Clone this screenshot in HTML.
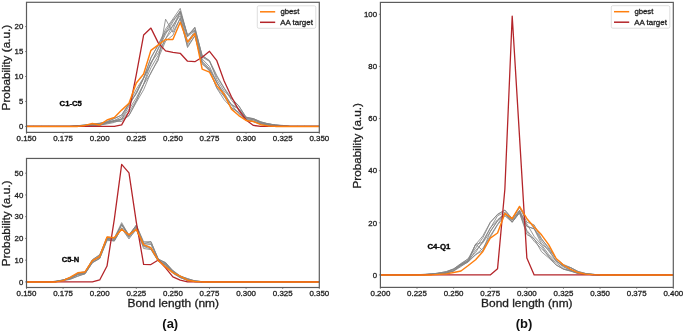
<!DOCTYPE html>
<html><head><meta charset="utf-8"><title>Bond length distributions</title>
<style>
html,body{margin:0;padding:0;background:#fff;}
body{width:685px;height:334px;overflow:hidden;}
svg{display:block;will-change:transform;}
text{font-family:"Liberation Sans", sans-serif;}
</style></head><body>
<svg width="685" height="334" viewBox="0 0 685 334" font-family="Liberation Sans, sans-serif">
<rect width="685" height="334" fill="#fff"/>
<defs><clipPath id="c1"><rect x="26.50" y="2.30" width="292.80" height="130.10"/></clipPath><clipPath id="c2"><rect x="26.50" y="158.45" width="292.80" height="129.05"/></clipPath><clipPath id="c3"><rect x="380.40" y="2.40" width="292.90" height="285.00"/></clipPath></defs>
<g clip-path="url(#c1)">
<polyline points="26.50,126.40 33.82,126.40 41.14,126.40 48.46,126.40 55.78,126.40 63.10,126.40 70.42,126.40 77.74,126.35 85.06,126.15 92.38,125.91 99.70,125.00 107.02,123.93 114.34,122.45 121.66,119.50 128.98,115.53 136.30,102.33 143.62,89.84 150.94,72.34 158.26,60.20 165.58,19.20 172.90,32.31 180.22,18.59 187.54,46.44 194.86,35.69 202.18,64.16 209.50,70.16 216.82,88.25 224.14,99.72 231.46,107.63 238.78,112.42 246.10,120.47 253.42,121.58 260.74,123.46 268.06,125.20 275.38,125.70 282.70,126.40 290.02,126.40 297.34,126.40 304.66,126.40 311.98,126.40 319.30,126.40" fill="none" stroke="#858585" stroke-width="0.85" stroke-linejoin="round" />
<polyline points="26.50,126.40 33.82,126.40 41.14,126.40 48.46,126.40 55.78,126.40 63.10,126.40 70.42,126.40 77.74,125.76 85.06,125.31 92.38,124.06 99.70,123.18 107.02,122.66 114.34,120.34 121.66,116.93 128.98,104.30 136.30,93.70 143.62,78.32 150.94,62.91 158.26,49.21 165.58,34.16 172.90,21.95 180.22,10.86 187.54,36.39 194.86,27.89 202.18,57.00 209.50,61.47 216.82,76.95 224.14,88.34 231.46,100.12 238.78,109.20 246.10,117.38 253.42,118.68 260.74,121.67 268.06,123.93 275.38,125.09 282.70,125.84 290.02,126.40 297.34,126.40 304.66,126.40 311.98,126.40 319.30,126.40" fill="none" stroke="#858585" stroke-width="0.85" stroke-linejoin="round" />
<polyline points="26.50,126.40 33.82,126.40 41.14,126.40 48.46,126.40 55.78,126.40 63.10,126.40 70.42,126.40 77.74,125.66 85.06,124.92 92.38,124.14 99.70,123.48 107.02,121.46 114.34,118.50 121.66,115.18 128.98,103.68 136.30,89.11 143.62,77.61 150.94,58.03 158.26,44.89 165.58,29.08 172.90,18.95 180.22,8.33 187.54,36.14 194.86,27.11 202.18,56.02 209.50,60.70 216.82,75.52 224.14,87.87 231.46,98.24 238.78,106.00 246.10,117.75 253.42,118.50 260.74,122.04 268.06,123.73 275.38,124.96 282.70,125.41 290.02,126.40 297.34,126.40 304.66,126.40 311.98,126.40 319.30,126.40" fill="none" stroke="#858585" stroke-width="0.85" stroke-linejoin="round" />
<polyline points="26.50,126.40 33.82,126.40 41.14,126.40 48.46,126.40 55.78,126.40 63.10,126.40 70.42,126.40 77.74,126.32 85.06,126.08 92.38,124.98 99.70,124.94 107.02,122.66 114.34,120.54 121.66,119.68 128.98,112.38 136.30,100.19 143.62,84.54 150.94,67.78 158.26,55.37 165.58,38.78 172.90,24.99 180.22,15.71 187.54,44.38 194.86,32.78 202.18,62.78 209.50,69.54 216.82,81.86 224.14,96.21 231.46,104.72 238.78,113.68 246.10,119.63 253.42,120.83 260.74,123.82 268.06,124.73 275.38,125.56 282.70,126.34 290.02,126.40 297.34,126.40 304.66,126.40 311.98,126.40 319.30,126.40" fill="none" stroke="#858585" stroke-width="0.85" stroke-linejoin="round" />
<polyline points="26.50,126.40 33.82,126.40 41.14,126.40 48.46,126.40 55.78,126.40 63.10,126.40 70.42,126.40 77.74,126.25 85.06,126.00 92.38,125.45 99.70,125.24 107.02,123.32 114.34,121.41 121.66,121.46 128.98,115.53 136.30,101.28 143.62,84.29 150.94,73.22 158.26,58.35 165.58,41.10 172.90,35.29 180.22,17.93 187.54,47.57 194.86,35.77 202.18,62.46 209.50,71.10 216.82,87.77 224.14,96.42 231.46,107.63 238.78,112.47 246.10,119.57 253.42,121.79 260.74,123.92 268.06,124.83 275.38,125.89 282.70,126.40 290.02,126.40 297.34,126.40 304.66,126.40 311.98,126.40 319.30,126.40" fill="none" stroke="#858585" stroke-width="0.85" stroke-linejoin="round" />
<polyline points="26.50,126.40 33.82,126.40 41.14,126.40 48.46,126.40 55.78,126.40 63.10,126.40 70.42,126.40 77.74,125.79 85.06,124.97 92.38,124.61 99.70,123.51 107.02,122.02 114.34,118.50 121.66,114.93 128.98,103.68 136.30,93.54 143.62,78.35 150.94,57.42 158.26,44.89 165.58,31.56 172.90,20.14 180.22,11.78 187.54,34.56 194.86,29.90 202.18,55.26 209.50,60.70 216.82,79.53 224.14,90.87 231.46,98.24 238.78,105.80 246.10,117.01 253.42,119.26 260.74,122.27 268.06,123.92 275.38,124.92 282.70,125.67 290.02,126.40 297.34,126.40 304.66,126.40 311.98,126.40 319.30,126.40" fill="none" stroke="#858585" stroke-width="0.85" stroke-linejoin="round" />
<polyline points="26.50,126.40 33.82,126.40 41.14,126.40 48.46,126.40 55.78,126.40 63.10,126.40 70.42,126.40 77.74,126.03 85.06,125.50 92.38,124.86 99.70,124.11 107.02,122.00 114.34,120.87 121.66,118.90 128.98,106.13 136.30,92.37 143.62,77.77 150.94,64.23 158.26,48.01 165.58,32.27 172.90,26.66 180.22,11.51 187.54,36.65 194.86,30.36 202.18,58.99 209.50,66.50 216.82,82.29 224.14,94.56 231.46,104.29 238.78,108.57 246.10,118.86 253.42,119.44 260.74,123.08 268.06,123.88 275.38,125.25 282.70,125.63 290.02,126.40 297.34,126.40 304.66,126.40 311.98,126.40 319.30,126.40" fill="none" stroke="#858585" stroke-width="0.85" stroke-linejoin="round" />
<polyline points="26.50,126.40 33.82,126.40 41.14,126.40 48.46,126.40 55.78,126.40 63.10,126.40 70.42,126.40 77.74,125.94 85.06,125.38 92.38,124.98 99.70,124.95 107.02,122.57 114.34,121.40 121.66,118.86 128.98,109.49 136.30,97.75 143.62,84.13 150.94,62.34 158.26,52.78 165.58,38.73 172.90,29.57 180.22,12.39 187.54,41.75 194.86,31.14 202.18,61.00 209.50,68.55 216.82,82.91 224.14,92.76 231.46,105.15 238.78,108.94 246.10,118.26 253.42,119.94 260.74,122.47 268.06,125.05 275.38,125.42 282.70,125.80 290.02,126.40 297.34,126.40 304.66,126.40 311.98,126.40 319.30,126.40" fill="none" stroke="#858585" stroke-width="0.85" stroke-linejoin="round" />
<polyline points="26.50,126.40 33.82,126.40 41.14,126.40 48.46,126.40 55.78,126.40 63.10,126.40 70.42,126.40 77.74,126.40 85.06,126.40 92.38,126.40 99.70,126.40 107.02,126.40 114.34,126.40 121.66,124.92 128.98,111.58 136.30,74.53 143.62,35.01 150.94,28.09 158.26,42.91 165.58,50.82 172.90,52.30 180.22,53.29 187.54,61.19 194.86,61.69 202.18,57.24 209.50,51.31 216.82,60.70 224.14,80.95 231.46,96.76 238.78,110.10 246.10,119.98 253.42,125.41 260.74,126.40 268.06,126.40 275.38,126.40 282.70,126.40 290.02,126.40 297.34,126.40 304.66,126.40 311.98,126.40 319.30,126.40" fill="none" stroke="#b4252a" stroke-width="1.3" stroke-linejoin="round" />
<polyline points="26.50,126.40 33.82,126.40 41.14,126.40 48.46,126.40 55.78,126.40 63.10,126.40 70.42,126.40 77.74,126.40 85.06,125.41 92.38,123.44 99.70,124.92 107.02,119.98 114.34,117.51 121.66,110.10 128.98,103.18 136.30,82.93 143.62,74.04 150.94,50.32 158.26,44.89 165.58,39.46 172.90,39.46 180.22,22.17 187.54,41.93 194.86,33.53 202.18,69.10 209.50,72.06 216.82,85.89 224.14,94.29 231.46,109.11 238.78,115.53 246.10,120.47 253.42,121.46 260.74,124.67 268.06,125.91 275.38,126.40 282.70,126.40 290.02,126.40 297.34,126.40 304.66,126.40 311.98,126.40 319.30,126.40" fill="none" stroke="#ff7f0e" stroke-width="1.45" stroke-linejoin="round" />
</g>
<g clip-path="url(#c2)">
<polyline points="26.50,281.90 33.82,281.90 41.14,281.90 48.46,281.90 55.78,281.29 63.10,279.95 70.42,277.72 77.74,273.71 85.06,272.14 92.38,259.66 99.70,254.61 107.02,238.61 114.34,238.81 121.66,224.20 128.98,234.85 136.30,225.15 143.62,243.90 150.94,241.58 158.26,259.61 165.58,262.44 172.90,271.34 180.22,276.33 187.54,278.65 194.86,281.07 202.18,281.67 209.50,281.90 216.82,281.90 224.14,281.90 231.46,281.90 238.78,281.90 246.10,281.90 253.42,281.90 260.74,281.90 268.06,281.90 275.38,281.90 282.70,281.90 290.02,281.90 297.34,281.90 304.66,281.90 311.98,281.90 319.30,281.90" fill="none" stroke="#858585" stroke-width="0.85" stroke-linejoin="round" />
<polyline points="26.50,281.90 33.82,281.90 41.14,281.90 48.46,281.90 55.78,281.46 63.10,280.24 70.42,278.53 77.74,274.26 85.06,272.81 92.38,261.23 99.70,257.27 107.02,238.47 114.34,239.44 121.66,224.85 128.98,236.40 136.30,228.30 143.62,246.10 150.94,247.50 158.26,260.81 165.58,264.74 172.90,272.30 180.22,276.64 187.54,280.43 194.86,281.23 202.18,281.79 209.50,281.90 216.82,281.90 224.14,281.90 231.46,281.90 238.78,281.90 246.10,281.90 253.42,281.90 260.74,281.90 268.06,281.90 275.38,281.90 282.70,281.90 290.02,281.90 297.34,281.90 304.66,281.90 311.98,281.90 319.30,281.90" fill="none" stroke="#858585" stroke-width="0.85" stroke-linejoin="round" />
<polyline points="26.50,281.90 33.82,281.90 41.14,281.90 48.46,281.90 55.78,281.87 63.10,280.48 70.42,278.98 77.74,276.11 85.06,273.56 92.38,262.41 99.70,258.49 107.02,239.57 114.34,241.14 121.66,227.84 128.98,237.67 136.30,229.87 143.62,246.59 150.94,248.99 158.26,261.01 165.58,265.42 172.90,273.23 180.22,277.78 187.54,280.01 194.86,281.68 202.18,281.81 209.50,281.90 216.82,281.90 224.14,281.90 231.46,281.90 238.78,281.90 246.10,281.90 253.42,281.90 260.74,281.90 268.06,281.90 275.38,281.90 282.70,281.90 290.02,281.90 297.34,281.90 304.66,281.90 311.98,281.90 319.30,281.90" fill="none" stroke="#858585" stroke-width="0.85" stroke-linejoin="round" />
<polyline points="26.50,281.90 33.82,281.90 41.14,281.90 48.46,281.90 55.78,281.76 63.10,280.54 70.42,279.30 77.74,276.26 85.06,273.85 92.38,262.87 99.70,258.49 107.02,240.63 114.34,240.66 121.66,228.50 128.98,238.97 136.30,228.80 143.62,248.51 150.94,249.60 158.26,261.36 165.58,264.74 172.90,273.23 180.22,277.27 187.54,280.77 194.86,281.68 202.18,281.90 209.50,281.90 216.82,281.90 224.14,281.90 231.46,281.90 238.78,281.90 246.10,281.90 253.42,281.90 260.74,281.90 268.06,281.90 275.38,281.90 282.70,281.90 290.02,281.90 297.34,281.90 304.66,281.90 311.98,281.90 319.30,281.90" fill="none" stroke="#858585" stroke-width="0.85" stroke-linejoin="round" />
<polyline points="26.50,281.90 33.82,281.90 41.14,281.90 48.46,281.90 55.78,281.35 63.10,280.11 70.42,277.33 77.74,273.23 85.06,271.49 92.38,259.87 99.70,255.13 107.02,237.02 114.34,237.89 121.66,222.64 128.98,235.40 136.30,225.10 143.62,241.79 150.94,241.75 158.26,258.81 165.58,262.89 172.90,270.41 180.22,275.95 187.54,278.65 194.86,280.82 202.18,281.63 209.50,281.90 216.82,281.90 224.14,281.90 231.46,281.90 238.78,281.90 246.10,281.90 253.42,281.90 260.74,281.90 268.06,281.90 275.38,281.90 282.70,281.90 290.02,281.90 297.34,281.90 304.66,281.90 311.98,281.90 319.30,281.90" fill="none" stroke="#858585" stroke-width="0.85" stroke-linejoin="round" />
<polyline points="26.50,281.90 33.82,281.90 41.14,281.90 48.46,281.90 55.78,281.64 63.10,280.32 70.42,278.46 77.74,274.96 85.06,273.67 92.38,262.38 99.70,258.01 107.02,239.25 114.34,240.55 121.66,227.88 128.98,236.77 136.30,227.67 143.62,244.99 150.94,247.49 158.26,260.73 165.58,264.12 172.90,272.45 180.22,277.35 187.54,280.30 194.86,281.59 202.18,281.83 209.50,281.90 216.82,281.90 224.14,281.90 231.46,281.90 238.78,281.90 246.10,281.90 253.42,281.90 260.74,281.90 268.06,281.90 275.38,281.90 282.70,281.90 290.02,281.90 297.34,281.90 304.66,281.90 311.98,281.90 319.30,281.90" fill="none" stroke="#858585" stroke-width="0.85" stroke-linejoin="round" />
<polyline points="26.50,281.90 33.82,281.90 41.14,281.90 48.46,281.90 55.78,281.28 63.10,279.99 70.42,277.44 77.74,274.10 85.06,272.37 92.38,261.27 99.70,255.88 107.02,237.62 114.34,238.22 121.66,224.97 128.98,235.44 136.30,225.81 143.62,243.06 150.94,243.21 158.26,259.14 165.58,263.32 172.90,270.93 180.22,276.34 187.54,279.28 194.86,280.95 202.18,281.64 209.50,281.90 216.82,281.90 224.14,281.90 231.46,281.90 238.78,281.90 246.10,281.90 253.42,281.90 260.74,281.90 268.06,281.90 275.38,281.90 282.70,281.90 290.02,281.90 297.34,281.90 304.66,281.90 311.98,281.90 319.30,281.90" fill="none" stroke="#858585" stroke-width="0.85" stroke-linejoin="round" />
<polyline points="26.50,281.90 33.82,281.90 41.14,281.90 48.46,281.90 55.78,281.60 63.10,280.10 70.42,277.76 77.74,274.41 85.06,273.10 92.38,260.89 99.70,256.55 107.02,238.43 114.34,239.34 121.66,224.33 128.98,236.32 136.30,226.43 143.62,245.18 150.94,244.44 158.26,259.58 165.58,263.03 172.90,271.83 180.22,276.01 187.54,279.18 194.86,281.11 202.18,281.64 209.50,281.90 216.82,281.90 224.14,281.90 231.46,281.90 238.78,281.90 246.10,281.90 253.42,281.90 260.74,281.90 268.06,281.90 275.38,281.90 282.70,281.90 290.02,281.90 297.34,281.90 304.66,281.90 311.98,281.90 319.30,281.90" fill="none" stroke="#858585" stroke-width="0.85" stroke-linejoin="round" />
<polyline points="26.50,281.90 33.82,281.90 41.14,281.90 48.46,281.90 55.78,281.90 63.10,281.90 70.42,281.90 77.74,281.90 85.06,281.90 92.38,281.90 99.70,279.95 107.02,266.07 114.34,219.03 121.66,164.39 128.98,172.85 136.30,222.06 143.62,264.34 150.94,264.56 158.26,260.00 165.58,267.81 172.90,276.91 180.22,280.17 187.54,281.90 194.86,281.90 202.18,281.90 209.50,281.90 216.82,281.90 224.14,281.90 231.46,281.90 238.78,281.90 246.10,281.90 253.42,281.90 260.74,281.90 268.06,281.90 275.38,281.90 282.70,281.90 290.02,281.90 297.34,281.90 304.66,281.90 311.98,281.90 319.30,281.90" fill="none" stroke="#b4252a" stroke-width="1.3" stroke-linejoin="round" />
<polyline points="26.50,281.90 33.82,281.90 41.14,281.90 48.46,281.90 55.78,281.90 63.10,280.60 70.42,277.13 77.74,272.79 85.06,271.93 92.38,260.65 99.70,256.53 107.02,237.02 114.34,237.67 121.66,229.22 128.98,234.85 136.30,229.22 143.62,244.61 150.94,247.86 158.26,260.44 165.58,266.94 172.90,272.58 180.22,276.05 187.54,280.17 194.86,281.47 202.18,281.90 209.50,281.90 216.82,281.90 224.14,281.90 231.46,281.90 238.78,281.90 246.10,281.90 253.42,281.90 260.74,281.90 268.06,281.90 275.38,281.90 282.70,281.90 290.02,281.90 297.34,281.90 304.66,281.90 311.98,281.90 319.30,281.90" fill="none" stroke="#ff7f0e" stroke-width="1.45" stroke-linejoin="round" />
</g>
<g clip-path="url(#c3)">
<polyline points="380.40,274.90 387.72,274.90 395.04,274.90 402.37,274.90 409.69,274.90 417.01,274.90 424.33,274.82 431.66,274.48 438.98,273.74 446.30,273.34 453.62,271.15 460.95,266.57 468.27,261.50 475.59,244.17 482.91,250.68 490.24,231.44 497.56,220.90 504.88,214.53 512.20,221.88 519.53,212.92 526.85,234.54 534.17,238.73 541.49,251.72 548.82,257.97 556.14,264.91 563.46,269.17 570.78,271.26 578.11,273.36 585.43,274.05 592.75,274.80 600.07,274.90 607.40,274.90 614.72,274.90 622.04,274.90 629.36,274.90 636.69,274.90 644.01,274.90 651.33,274.90 658.65,274.90 665.98,274.90 673.30,274.90" fill="none" stroke="#858585" stroke-width="0.85" stroke-linejoin="round" />
<polyline points="380.40,274.90 387.72,274.90 395.04,274.90 402.37,274.90 409.69,274.90 417.01,274.88 424.33,274.90 431.66,274.58 438.98,274.12 446.30,273.34 453.62,270.67 460.95,265.79 468.27,262.00 475.59,254.65 482.91,250.68 490.24,237.14 497.56,224.90 504.88,215.79 512.20,222.20 519.53,212.92 526.85,231.74 534.17,241.31 541.49,248.68 548.82,256.17 556.14,265.00 563.46,269.17 570.78,270.92 578.11,273.60 585.43,274.13 592.75,274.90 600.07,274.90 607.40,274.90 614.72,274.90 622.04,274.90 629.36,274.90 636.69,274.90 644.01,274.90 651.33,274.90 658.65,274.90 665.98,274.90 673.30,274.90" fill="none" stroke="#858585" stroke-width="0.85" stroke-linejoin="round" />
<polyline points="380.40,274.90 387.72,274.90 395.04,274.90 402.37,274.90 409.69,274.90 417.01,274.88 424.33,274.72 431.66,274.31 438.98,273.90 446.30,273.19 453.62,270.78 460.95,264.95 468.27,261.04 475.59,254.76 482.91,248.32 490.24,235.86 497.56,224.20 504.88,213.30 512.20,222.24 519.53,211.12 526.85,230.35 534.17,239.16 541.49,246.39 548.82,256.92 556.14,262.68 563.46,268.73 570.78,270.75 578.11,273.30 585.43,274.20 592.75,274.56 600.07,274.90 607.40,274.90 614.72,274.90 622.04,274.90 629.36,274.90 636.69,274.90 644.01,274.90 651.33,274.90 658.65,274.90 665.98,274.90 673.30,274.90" fill="none" stroke="#858585" stroke-width="0.85" stroke-linejoin="round" />
<polyline points="380.40,274.90 387.72,274.90 395.04,274.90 402.37,274.90 409.69,274.90 417.01,274.67 424.33,274.58 431.66,273.93 438.98,273.38 446.30,272.13 453.62,269.17 460.95,264.11 468.27,260.65 475.59,244.40 482.91,242.21 490.24,228.33 497.56,215.82 504.88,212.19 512.20,219.95 519.53,210.05 526.85,226.31 534.17,228.91 541.49,243.94 548.82,250.01 556.14,260.77 563.46,265.93 570.78,267.84 578.11,272.13 585.43,273.60 592.75,274.32 600.07,274.90 607.40,274.90 614.72,274.90 622.04,274.90 629.36,274.90 636.69,274.90 644.01,274.90 651.33,274.90 658.65,274.90 665.98,274.90 673.30,274.90" fill="none" stroke="#858585" stroke-width="0.85" stroke-linejoin="round" />
<polyline points="380.40,274.90 387.72,274.90 395.04,274.90 402.37,274.90 409.69,274.90 417.01,274.83 424.33,274.77 431.66,274.15 438.98,273.35 446.30,272.78 453.62,270.61 460.95,264.85 468.27,260.13 475.59,252.57 482.91,240.98 490.24,227.94 497.56,219.77 504.88,213.56 512.20,221.74 519.53,211.79 526.85,223.88 534.17,236.42 541.49,244.67 548.82,254.78 556.14,261.16 563.46,266.94 570.78,270.42 578.11,273.04 585.43,273.82 592.75,274.76 600.07,274.90 607.40,274.90 614.72,274.90 622.04,274.90 629.36,274.90 636.69,274.90 644.01,274.90 651.33,274.90 658.65,274.90 665.98,274.90 673.30,274.90" fill="none" stroke="#858585" stroke-width="0.85" stroke-linejoin="round" />
<polyline points="380.40,274.90 387.72,274.90 395.04,274.90 402.37,274.90 409.69,274.90 417.01,274.79 424.33,274.59 431.66,274.06 438.98,273.30 446.30,272.50 453.62,269.43 460.95,265.24 468.27,261.37 475.59,250.43 482.91,242.60 490.24,231.92 497.56,220.53 504.88,212.89 512.20,219.97 519.53,210.71 526.85,226.43 534.17,228.73 541.49,240.95 548.82,251.20 556.14,260.66 563.46,266.29 570.78,270.14 578.11,272.89 585.43,274.04 592.75,274.39 600.07,274.90 607.40,274.90 614.72,274.90 622.04,274.90 629.36,274.90 636.69,274.90 644.01,274.90 651.33,274.90 658.65,274.90 665.98,274.90 673.30,274.90" fill="none" stroke="#858585" stroke-width="0.85" stroke-linejoin="round" />
<polyline points="380.40,274.90 387.72,274.90 395.04,274.90 402.37,274.90 409.69,274.90 417.01,274.65 424.33,274.38 431.66,274.16 438.98,272.91 446.30,271.79 453.62,268.98 460.95,264.17 468.27,258.76 475.59,248.17 482.91,237.62 490.24,222.66 497.56,214.23 504.88,210.20 512.20,218.33 519.53,207.20 526.85,218.39 534.17,228.46 541.49,239.11 548.82,247.56 556.14,258.49 563.46,265.35 570.78,267.61 578.11,271.51 585.43,273.45 592.75,274.30 600.07,274.90 607.40,274.90 614.72,274.90 622.04,274.90 629.36,274.90 636.69,274.90 644.01,274.90 651.33,274.90 658.65,274.90 665.98,274.90 673.30,274.90" fill="none" stroke="#858585" stroke-width="0.85" stroke-linejoin="round" />
<polyline points="380.40,274.90 387.72,274.90 395.04,274.90 402.37,274.90 409.69,274.90 417.01,274.65 424.33,274.38 431.66,273.86 438.98,273.09 446.30,271.51 453.62,268.91 460.95,263.44 468.27,258.76 475.59,244.58 482.91,235.84 490.24,222.30 497.56,214.54 504.88,210.06 512.20,219.11 519.53,207.20 526.85,222.19 534.17,224.90 541.49,238.57 548.82,248.96 556.14,258.49 563.46,264.49 570.78,267.61 578.11,271.51 585.43,273.46 592.75,274.41 600.07,274.90 607.40,274.90 614.72,274.90 622.04,274.90 629.36,274.90 636.69,274.90 644.01,274.90 651.33,274.90 658.65,274.90 665.98,274.90 673.30,274.90" fill="none" stroke="#858585" stroke-width="0.85" stroke-linejoin="round" />
<polyline points="380.40,274.90 387.72,274.90 395.04,274.90 402.37,274.90 409.69,274.90 417.01,274.90 424.33,274.90 431.66,274.90 438.98,274.90 446.30,274.90 453.62,274.90 460.95,274.90 468.27,274.90 475.59,274.90 482.91,274.90 490.24,274.90 497.56,268.65 504.88,188.97 512.20,16.06 519.53,136.89 526.85,257.97 534.17,274.90 541.49,274.90 548.82,274.90 556.14,274.90 563.46,274.90 570.78,274.90 578.11,274.90 585.43,274.90 592.75,274.90 600.07,274.90 607.40,274.90 614.72,274.90 622.04,274.90 629.36,274.90 636.69,274.90 644.01,274.90 651.33,274.90 658.65,274.90 665.98,274.90 673.30,274.90" fill="none" stroke="#b4252a" stroke-width="1.3" stroke-linejoin="round" />
<polyline points="380.40,274.90 387.72,274.90 395.04,274.90 402.37,274.90 409.69,274.90 417.01,274.90 424.33,274.90 431.66,274.90 438.98,274.38 446.30,273.86 453.62,272.56 460.95,270.99 468.27,265.53 475.59,259.80 482.91,251.46 490.24,238.18 497.56,232.98 504.88,213.45 512.20,218.65 519.53,206.41 526.85,218.65 534.17,226.99 541.49,234.80 548.82,244.95 556.14,258.49 563.46,265.00 570.78,269.43 578.11,272.56 585.43,274.12 592.75,274.64 600.07,274.90 607.40,274.90 614.72,274.90 622.04,274.90 629.36,274.90 636.69,274.90 644.01,274.90 651.33,274.90 658.65,274.90 665.98,274.90 673.30,274.90" fill="none" stroke="#ff7f0e" stroke-width="1.45" stroke-linejoin="round" />
</g>
<rect x="26.50" y="2.30" width="292.80" height="130.10" fill="none" stroke="#5c5c5c" stroke-width="1.2"/>
<rect x="26.50" y="158.45" width="292.80" height="129.05" fill="none" stroke="#5c5c5c" stroke-width="1.2"/>
<rect x="380.40" y="2.40" width="292.90" height="285.00" fill="none" stroke="#5c5c5c" stroke-width="1.2"/>
<line x1="26.50" y1="132.40" x2="26.50" y2="133.90" stroke="#5c5c5c" stroke-width="0.7"/>
<text x="26.50" y="140.60" font-size="7" text-anchor="middle" fill="#1e1e1e" stroke="#1e1e1e" stroke-width="0.28" textLength="19.8" lengthAdjust="spacingAndGlyphs">0.150</text>
<line x1="63.10" y1="132.40" x2="63.10" y2="133.90" stroke="#5c5c5c" stroke-width="0.7"/>
<text x="63.10" y="140.60" font-size="7" text-anchor="middle" fill="#1e1e1e" stroke="#1e1e1e" stroke-width="0.28" textLength="19.8" lengthAdjust="spacingAndGlyphs">0.175</text>
<line x1="99.70" y1="132.40" x2="99.70" y2="133.90" stroke="#5c5c5c" stroke-width="0.7"/>
<text x="99.70" y="140.60" font-size="7" text-anchor="middle" fill="#1e1e1e" stroke="#1e1e1e" stroke-width="0.28" textLength="19.8" lengthAdjust="spacingAndGlyphs">0.200</text>
<line x1="136.30" y1="132.40" x2="136.30" y2="133.90" stroke="#5c5c5c" stroke-width="0.7"/>
<text x="136.30" y="140.60" font-size="7" text-anchor="middle" fill="#1e1e1e" stroke="#1e1e1e" stroke-width="0.28" textLength="19.8" lengthAdjust="spacingAndGlyphs">0.225</text>
<line x1="172.90" y1="132.40" x2="172.90" y2="133.90" stroke="#5c5c5c" stroke-width="0.7"/>
<text x="172.90" y="140.60" font-size="7" text-anchor="middle" fill="#1e1e1e" stroke="#1e1e1e" stroke-width="0.28" textLength="19.8" lengthAdjust="spacingAndGlyphs">0.250</text>
<line x1="209.50" y1="132.40" x2="209.50" y2="133.90" stroke="#5c5c5c" stroke-width="0.7"/>
<text x="209.50" y="140.60" font-size="7" text-anchor="middle" fill="#1e1e1e" stroke="#1e1e1e" stroke-width="0.28" textLength="19.8" lengthAdjust="spacingAndGlyphs">0.275</text>
<line x1="246.10" y1="132.40" x2="246.10" y2="133.90" stroke="#5c5c5c" stroke-width="0.7"/>
<text x="246.10" y="140.60" font-size="7" text-anchor="middle" fill="#1e1e1e" stroke="#1e1e1e" stroke-width="0.28" textLength="19.8" lengthAdjust="spacingAndGlyphs">0.300</text>
<line x1="282.70" y1="132.40" x2="282.70" y2="133.90" stroke="#5c5c5c" stroke-width="0.7"/>
<text x="282.70" y="140.60" font-size="7" text-anchor="middle" fill="#1e1e1e" stroke="#1e1e1e" stroke-width="0.28" textLength="19.8" lengthAdjust="spacingAndGlyphs">0.325</text>
<line x1="319.30" y1="132.40" x2="319.30" y2="133.90" stroke="#5c5c5c" stroke-width="0.7"/>
<text x="319.30" y="140.60" font-size="7" text-anchor="middle" fill="#1e1e1e" stroke="#1e1e1e" stroke-width="0.28" textLength="19.8" lengthAdjust="spacingAndGlyphs">0.350</text>
<line x1="26.50" y1="287.50" x2="26.50" y2="289.00" stroke="#5c5c5c" stroke-width="0.7"/>
<text x="26.50" y="295.60" font-size="7" text-anchor="middle" fill="#1e1e1e" stroke="#1e1e1e" stroke-width="0.28" textLength="19.8" lengthAdjust="spacingAndGlyphs">0.150</text>
<line x1="63.10" y1="287.50" x2="63.10" y2="289.00" stroke="#5c5c5c" stroke-width="0.7"/>
<text x="63.10" y="295.60" font-size="7" text-anchor="middle" fill="#1e1e1e" stroke="#1e1e1e" stroke-width="0.28" textLength="19.8" lengthAdjust="spacingAndGlyphs">0.175</text>
<line x1="99.70" y1="287.50" x2="99.70" y2="289.00" stroke="#5c5c5c" stroke-width="0.7"/>
<text x="99.70" y="295.60" font-size="7" text-anchor="middle" fill="#1e1e1e" stroke="#1e1e1e" stroke-width="0.28" textLength="19.8" lengthAdjust="spacingAndGlyphs">0.200</text>
<line x1="136.30" y1="287.50" x2="136.30" y2="289.00" stroke="#5c5c5c" stroke-width="0.7"/>
<text x="136.30" y="295.60" font-size="7" text-anchor="middle" fill="#1e1e1e" stroke="#1e1e1e" stroke-width="0.28" textLength="19.8" lengthAdjust="spacingAndGlyphs">0.225</text>
<line x1="172.90" y1="287.50" x2="172.90" y2="289.00" stroke="#5c5c5c" stroke-width="0.7"/>
<text x="172.90" y="295.60" font-size="7" text-anchor="middle" fill="#1e1e1e" stroke="#1e1e1e" stroke-width="0.28" textLength="19.8" lengthAdjust="spacingAndGlyphs">0.250</text>
<line x1="209.50" y1="287.50" x2="209.50" y2="289.00" stroke="#5c5c5c" stroke-width="0.7"/>
<text x="209.50" y="295.60" font-size="7" text-anchor="middle" fill="#1e1e1e" stroke="#1e1e1e" stroke-width="0.28" textLength="19.8" lengthAdjust="spacingAndGlyphs">0.275</text>
<line x1="246.10" y1="287.50" x2="246.10" y2="289.00" stroke="#5c5c5c" stroke-width="0.7"/>
<text x="246.10" y="295.60" font-size="7" text-anchor="middle" fill="#1e1e1e" stroke="#1e1e1e" stroke-width="0.28" textLength="19.8" lengthAdjust="spacingAndGlyphs">0.300</text>
<line x1="282.70" y1="287.50" x2="282.70" y2="289.00" stroke="#5c5c5c" stroke-width="0.7"/>
<text x="282.70" y="295.60" font-size="7" text-anchor="middle" fill="#1e1e1e" stroke="#1e1e1e" stroke-width="0.28" textLength="19.8" lengthAdjust="spacingAndGlyphs">0.325</text>
<line x1="319.30" y1="287.50" x2="319.30" y2="289.00" stroke="#5c5c5c" stroke-width="0.7"/>
<text x="319.30" y="295.60" font-size="7" text-anchor="middle" fill="#1e1e1e" stroke="#1e1e1e" stroke-width="0.28" textLength="19.8" lengthAdjust="spacingAndGlyphs">0.350</text>
<line x1="380.40" y1="287.40" x2="380.40" y2="288.90" stroke="#5c5c5c" stroke-width="0.7"/>
<text x="380.40" y="296.00" font-size="7" text-anchor="middle" fill="#1e1e1e" stroke="#1e1e1e" stroke-width="0.28" textLength="19.8" lengthAdjust="spacingAndGlyphs">0.200</text>
<line x1="417.01" y1="287.40" x2="417.01" y2="288.90" stroke="#5c5c5c" stroke-width="0.7"/>
<text x="417.01" y="296.00" font-size="7" text-anchor="middle" fill="#1e1e1e" stroke="#1e1e1e" stroke-width="0.28" textLength="19.8" lengthAdjust="spacingAndGlyphs">0.225</text>
<line x1="453.62" y1="287.40" x2="453.62" y2="288.90" stroke="#5c5c5c" stroke-width="0.7"/>
<text x="453.62" y="296.00" font-size="7" text-anchor="middle" fill="#1e1e1e" stroke="#1e1e1e" stroke-width="0.28" textLength="19.8" lengthAdjust="spacingAndGlyphs">0.250</text>
<line x1="490.24" y1="287.40" x2="490.24" y2="288.90" stroke="#5c5c5c" stroke-width="0.7"/>
<text x="490.24" y="296.00" font-size="7" text-anchor="middle" fill="#1e1e1e" stroke="#1e1e1e" stroke-width="0.28" textLength="19.8" lengthAdjust="spacingAndGlyphs">0.275</text>
<line x1="526.85" y1="287.40" x2="526.85" y2="288.90" stroke="#5c5c5c" stroke-width="0.7"/>
<text x="526.85" y="296.00" font-size="7" text-anchor="middle" fill="#1e1e1e" stroke="#1e1e1e" stroke-width="0.28" textLength="19.8" lengthAdjust="spacingAndGlyphs">0.300</text>
<line x1="563.46" y1="287.40" x2="563.46" y2="288.90" stroke="#5c5c5c" stroke-width="0.7"/>
<text x="563.46" y="296.00" font-size="7" text-anchor="middle" fill="#1e1e1e" stroke="#1e1e1e" stroke-width="0.28" textLength="19.8" lengthAdjust="spacingAndGlyphs">0.325</text>
<line x1="600.07" y1="287.40" x2="600.07" y2="288.90" stroke="#5c5c5c" stroke-width="0.7"/>
<text x="600.07" y="296.00" font-size="7" text-anchor="middle" fill="#1e1e1e" stroke="#1e1e1e" stroke-width="0.28" textLength="19.8" lengthAdjust="spacingAndGlyphs">0.350</text>
<line x1="636.69" y1="287.40" x2="636.69" y2="288.90" stroke="#5c5c5c" stroke-width="0.7"/>
<text x="636.69" y="296.00" font-size="7" text-anchor="middle" fill="#1e1e1e" stroke="#1e1e1e" stroke-width="0.28" textLength="19.8" lengthAdjust="spacingAndGlyphs">0.375</text>
<line x1="673.30" y1="287.40" x2="673.30" y2="288.90" stroke="#5c5c5c" stroke-width="0.7"/>
<text x="673.30" y="296.00" font-size="7" text-anchor="middle" fill="#1e1e1e" stroke="#1e1e1e" stroke-width="0.28" textLength="19.8" lengthAdjust="spacingAndGlyphs">0.400</text>
<line x1="25.00" y1="126.40" x2="26.50" y2="126.40" stroke="#5c5c5c" stroke-width="0.7"/>
<text x="23.30" y="129.20" font-size="7" text-anchor="end" fill="#1e1e1e" stroke="#1e1e1e" stroke-width="0.28" textLength="4.3" lengthAdjust="spacingAndGlyphs">0</text>
<line x1="25.00" y1="101.45" x2="26.50" y2="101.45" stroke="#5c5c5c" stroke-width="0.7"/>
<text x="23.30" y="104.25" font-size="7" text-anchor="end" fill="#1e1e1e" stroke="#1e1e1e" stroke-width="0.28" textLength="4.3" lengthAdjust="spacingAndGlyphs">5</text>
<line x1="25.00" y1="76.50" x2="26.50" y2="76.50" stroke="#5c5c5c" stroke-width="0.7"/>
<text x="23.30" y="79.30" font-size="7" text-anchor="end" fill="#1e1e1e" stroke="#1e1e1e" stroke-width="0.28" textLength="8.7" lengthAdjust="spacingAndGlyphs">10</text>
<line x1="25.00" y1="51.55" x2="26.50" y2="51.55" stroke="#5c5c5c" stroke-width="0.7"/>
<text x="23.30" y="54.35" font-size="7" text-anchor="end" fill="#1e1e1e" stroke="#1e1e1e" stroke-width="0.28" textLength="8.7" lengthAdjust="spacingAndGlyphs">15</text>
<line x1="25.00" y1="26.60" x2="26.50" y2="26.60" stroke="#5c5c5c" stroke-width="0.7"/>
<text x="23.30" y="29.40" font-size="7" text-anchor="end" fill="#1e1e1e" stroke="#1e1e1e" stroke-width="0.28" textLength="8.7" lengthAdjust="spacingAndGlyphs">20</text>
<line x1="25.00" y1="281.90" x2="26.50" y2="281.90" stroke="#5c5c5c" stroke-width="0.7"/>
<text x="23.30" y="284.70" font-size="7" text-anchor="end" fill="#1e1e1e" stroke="#1e1e1e" stroke-width="0.28" textLength="4.3" lengthAdjust="spacingAndGlyphs">0</text>
<line x1="25.00" y1="260.16" x2="26.50" y2="260.16" stroke="#5c5c5c" stroke-width="0.7"/>
<text x="23.30" y="262.96" font-size="7" text-anchor="end" fill="#1e1e1e" stroke="#1e1e1e" stroke-width="0.28" textLength="8.7" lengthAdjust="spacingAndGlyphs">10</text>
<line x1="25.00" y1="238.42" x2="26.50" y2="238.42" stroke="#5c5c5c" stroke-width="0.7"/>
<text x="23.30" y="241.22" font-size="7" text-anchor="end" fill="#1e1e1e" stroke="#1e1e1e" stroke-width="0.28" textLength="8.7" lengthAdjust="spacingAndGlyphs">20</text>
<line x1="25.00" y1="216.68" x2="26.50" y2="216.68" stroke="#5c5c5c" stroke-width="0.7"/>
<text x="23.30" y="219.48" font-size="7" text-anchor="end" fill="#1e1e1e" stroke="#1e1e1e" stroke-width="0.28" textLength="8.7" lengthAdjust="spacingAndGlyphs">30</text>
<line x1="25.00" y1="194.94" x2="26.50" y2="194.94" stroke="#5c5c5c" stroke-width="0.7"/>
<text x="23.30" y="197.74" font-size="7" text-anchor="end" fill="#1e1e1e" stroke="#1e1e1e" stroke-width="0.28" textLength="8.7" lengthAdjust="spacingAndGlyphs">40</text>
<line x1="25.00" y1="173.20" x2="26.50" y2="173.20" stroke="#5c5c5c" stroke-width="0.7"/>
<text x="23.30" y="176.00" font-size="7" text-anchor="end" fill="#1e1e1e" stroke="#1e1e1e" stroke-width="0.28" textLength="8.7" lengthAdjust="spacingAndGlyphs">50</text>
<line x1="378.90" y1="274.90" x2="380.40" y2="274.90" stroke="#5c5c5c" stroke-width="0.7"/>
<text x="377.00" y="277.70" font-size="7" text-anchor="end" fill="#1e1e1e" stroke="#1e1e1e" stroke-width="0.28" textLength="4.3" lengthAdjust="spacingAndGlyphs">0</text>
<line x1="378.90" y1="222.78" x2="380.40" y2="222.78" stroke="#5c5c5c" stroke-width="0.7"/>
<text x="377.00" y="225.58" font-size="7" text-anchor="end" fill="#1e1e1e" stroke="#1e1e1e" stroke-width="0.28" textLength="8.7" lengthAdjust="spacingAndGlyphs">20</text>
<line x1="378.90" y1="170.66" x2="380.40" y2="170.66" stroke="#5c5c5c" stroke-width="0.7"/>
<text x="377.00" y="173.46" font-size="7" text-anchor="end" fill="#1e1e1e" stroke="#1e1e1e" stroke-width="0.28" textLength="8.7" lengthAdjust="spacingAndGlyphs">40</text>
<line x1="378.90" y1="118.54" x2="380.40" y2="118.54" stroke="#5c5c5c" stroke-width="0.7"/>
<text x="377.00" y="121.34" font-size="7" text-anchor="end" fill="#1e1e1e" stroke="#1e1e1e" stroke-width="0.28" textLength="8.7" lengthAdjust="spacingAndGlyphs">60</text>
<line x1="378.90" y1="66.42" x2="380.40" y2="66.42" stroke="#5c5c5c" stroke-width="0.7"/>
<text x="377.00" y="69.22" font-size="7" text-anchor="end" fill="#1e1e1e" stroke="#1e1e1e" stroke-width="0.28" textLength="8.7" lengthAdjust="spacingAndGlyphs">80</text>
<line x1="378.90" y1="14.30" x2="380.40" y2="14.30" stroke="#5c5c5c" stroke-width="0.7"/>
<text x="377.00" y="17.10" font-size="7" text-anchor="end" fill="#1e1e1e" stroke="#1e1e1e" stroke-width="0.28" textLength="13.0" lengthAdjust="spacingAndGlyphs">100</text>
<text transform="translate(10.30,67.60) rotate(-90)" font-size="10.6" text-anchor="middle" fill="#1e1e1e" stroke="#1e1e1e" stroke-width="0.28" textLength="85.6" lengthAdjust="spacingAndGlyphs">Probability (a.u.)</text>
<text transform="translate(10.30,223.40) rotate(-90)" font-size="10.6" text-anchor="middle" fill="#1e1e1e" stroke="#1e1e1e" stroke-width="0.28" textLength="85.6" lengthAdjust="spacingAndGlyphs">Probability (a.u.)</text>
<text transform="translate(360.90,145.80) rotate(-90)" font-size="10.6" text-anchor="middle" fill="#1e1e1e" stroke="#1e1e1e" stroke-width="0.28" textLength="85.6" lengthAdjust="spacingAndGlyphs">Probability (a.u.)</text>
<text x="173.2" y="307.0" font-size="10.4" text-anchor="middle" fill="#1e1e1e" stroke="#1e1e1e" stroke-width="0.28" textLength="91.5" lengthAdjust="spacingAndGlyphs">Bond length (nm)</text>
<text x="526.8" y="307.0" font-size="10.4" text-anchor="middle" fill="#1e1e1e" stroke="#1e1e1e" stroke-width="0.28" textLength="91.5" lengthAdjust="spacingAndGlyphs">Bond length (nm)</text>
<text x="170.25" y="328.4" font-size="13" font-weight="bold" text-anchor="middle" fill="#111">(a)</text>
<text x="523.95" y="328.4" font-size="13" font-weight="bold" text-anchor="middle" fill="#111">(b)</text>
<text x="59.6" y="106.0" font-size="7" font-weight="bold" fill="#000" stroke="#000" stroke-width="0.3" textLength="22.2" lengthAdjust="spacingAndGlyphs">C1-C5</text>
<text x="61.7" y="261.8" font-size="7" font-weight="bold" fill="#000" stroke="#000" stroke-width="0.3" textLength="17.6" lengthAdjust="spacingAndGlyphs">C5-N</text>
<text x="427.4" y="249.2" font-size="7" font-weight="bold" fill="#000" stroke="#000" stroke-width="0.3" textLength="23" lengthAdjust="spacingAndGlyphs">C4-Q1</text>
<rect x="257.30" y="5.80" width="58.5" height="22.5" rx="1.5" fill="#fff" fill-opacity="0.8" stroke="#d6d6d6" stroke-width="0.8"/>
<line x1="260.00" y1="11.80" x2="275.20" y2="11.80" stroke="#ff7f0e" stroke-width="1.5"/>
<line x1="260.00" y1="22.30" x2="275.20" y2="22.30" stroke="#b4252a" stroke-width="1.5"/>
<text x="280.40" y="14.00" font-size="6.9" fill="#1e1e1e" stroke="#1e1e1e" stroke-width="0.28" textLength="18.9" lengthAdjust="spacingAndGlyphs">gbest</text>
<text x="280.20" y="24.80" font-size="6.9" fill="#1e1e1e" stroke="#1e1e1e" stroke-width="0.28" textLength="32.7" lengthAdjust="spacingAndGlyphs">AA target</text>
<rect x="611.30" y="5.70" width="58.5" height="22.5" rx="1.5" fill="#fff" fill-opacity="0.8" stroke="#d6d6d6" stroke-width="0.8"/>
<line x1="614.00" y1="11.70" x2="629.20" y2="11.70" stroke="#ff7f0e" stroke-width="1.5"/>
<line x1="614.00" y1="22.20" x2="629.20" y2="22.20" stroke="#b4252a" stroke-width="1.5"/>
<text x="634.40" y="13.90" font-size="6.9" fill="#1e1e1e" stroke="#1e1e1e" stroke-width="0.28" textLength="18.9" lengthAdjust="spacingAndGlyphs">gbest</text>
<text x="634.20" y="24.70" font-size="6.9" fill="#1e1e1e" stroke="#1e1e1e" stroke-width="0.28" textLength="32.7" lengthAdjust="spacingAndGlyphs">AA target</text>
</svg>
</body></html>
